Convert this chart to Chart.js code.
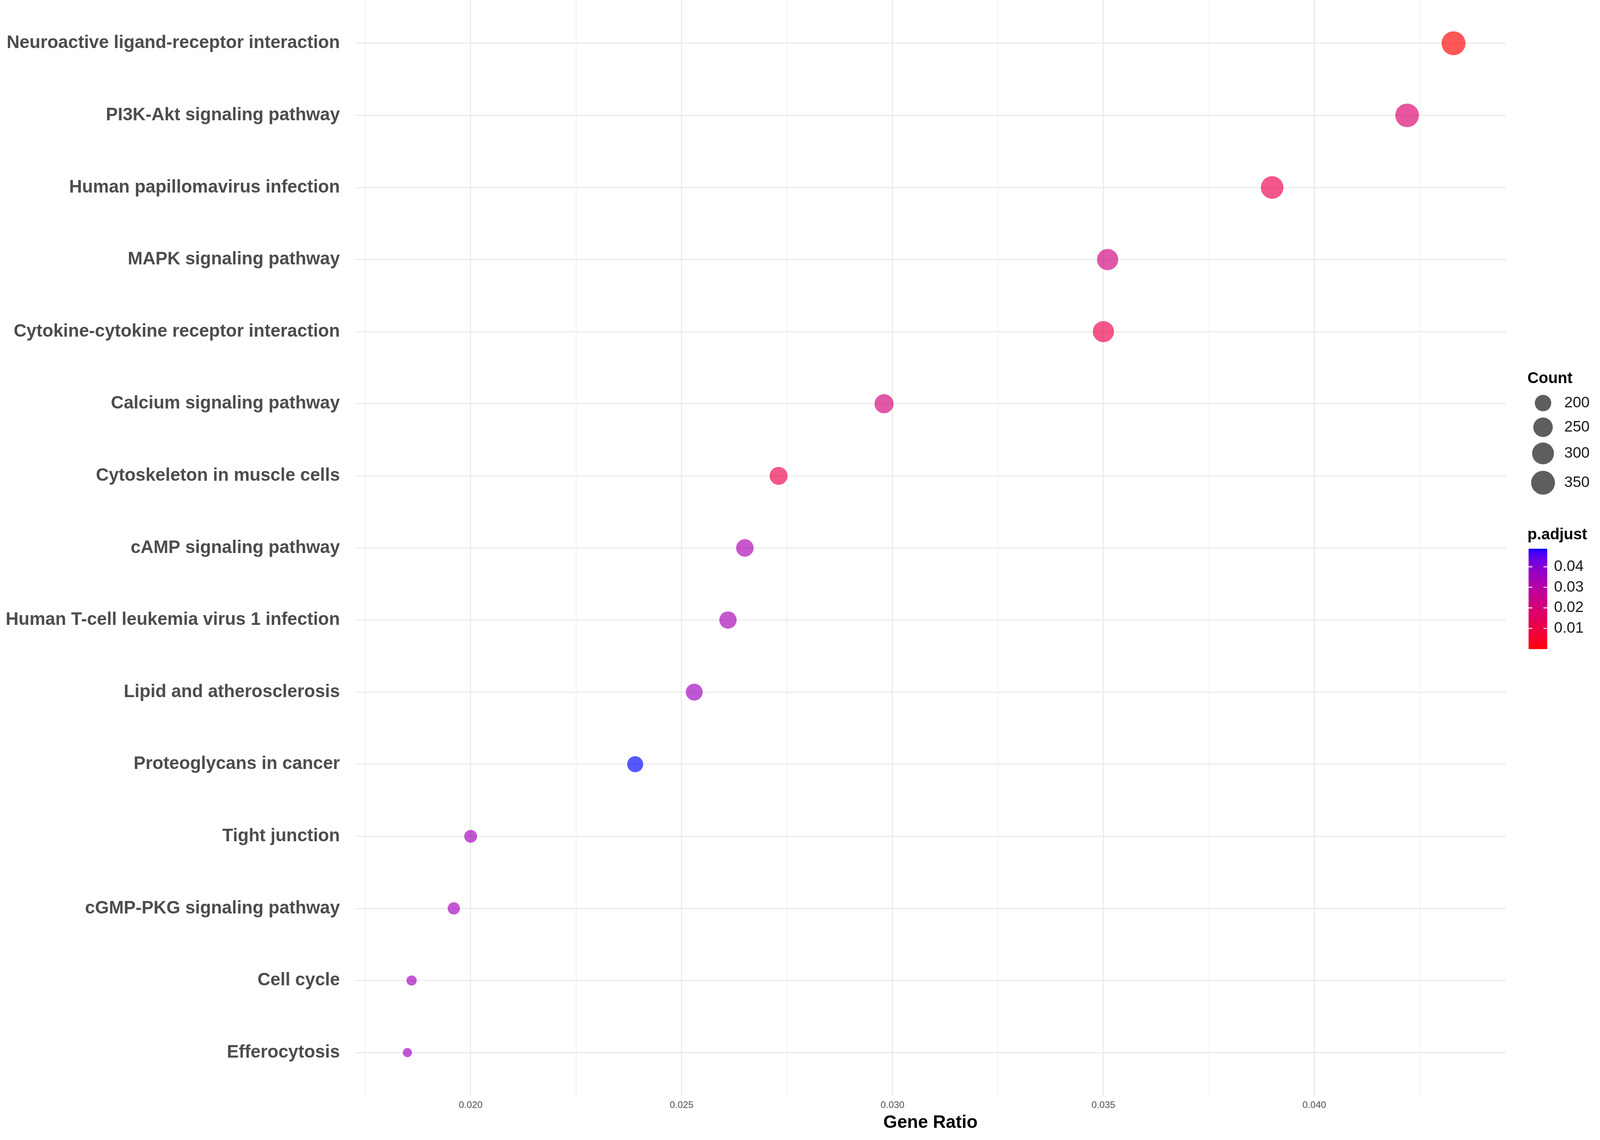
<!DOCTYPE html>
<html>
<head>
<meta charset="utf-8">
<title>KEGG enrichment dot plot</title>
<script src="https://cdn.jsdelivr.net/npm/chart.js@4.4.1/dist/chart.umd.min.js"></script>
<style>
  html, body { margin: 0; padding: 0; background: #fff; overflow: hidden; }
  #wrap { position: absolute; left: 0; top: 0; }
  canvas { display: block; }
</style>
</head>
<body>
<div id="wrap"><canvas id="dotChart"></canvas></div>
<script>
// =============================
// DATA (top row first)
// =============================
const pathways = [
  "Neuroactive ligand-receptor interaction",
  "PI3K-Akt signaling pathway",
  "Human papillomavirus infection",
  "MAPK signaling pathway",
  "Cytokine-cytokine receptor interaction",
  "Calcium signaling pathway",
  "Cytoskeleton in muscle cells",
  "cAMP signaling pathway",
  "Human T-cell leukemia virus 1 infection",
  "Lipid and atherosclerosis",
  "Proteoglycans in cancer",
  "Tight junction",
  "cGMP-PKG signaling pathway",
  "Cell cycle",
  "Efferocytosis"
];
const geneRatio = [0.0433, 0.0422, 0.0390, 0.0351, 0.0350, 0.0298, 0.0273, 0.0265,
                   0.0261, 0.0253, 0.0239, 0.0200, 0.0196, 0.0186, 0.0185];
const geneCount = [352, 343, 317, 285, 284, 242, 222, 215, 212, 206, 194, 163, 159, 151, 150];
const pAdjust   = [0.00013, 0.018, 0.012, 0.022, 0.011, 0.021, 0.011, 0.033,
                   0.034, 0.036, 0.0488, 0.035, 0.035, 0.036, 0.036];

const xMajorTicks = [0.020, 0.025, 0.030, 0.035, 0.040];
const xMajorLabels = ["0.020", "0.025", "0.030", "0.035", "0.040"];
const xMinorTicks = [0.0175, 0.0225, 0.0275, 0.0325, 0.0375, 0.0425];
const countBreaks = [200, 250, 300, 350];
const pBreaks = [0.01, 0.02, 0.03, 0.04];
const pBreakLabels = ["0.01", "0.02", "0.03", "0.04"];

const FONT = '"Liberation Sans", Arial, sans-serif';

// layout is designed for 4213 x 2919, scaled to whatever the viewport really is
const W = window.innerWidth, H = window.innerHeight;
const sx = W / 4213, sy = H / 2919, s = Math.min(sx, sy);
const canvas = document.getElementById("dotChart");
canvas.width = W;
canvas.height = H;

// =============================
// size + colour scales (ggplot-like)
// =============================
const cMin = Math.min(...geneCount);
const cMax = Math.max(...geneCount);
const pMin = Math.min(...pAdjust);
const pMax = Math.max(...pAdjust);

function diameterFor(c) {
  const t = Math.max(0, (c - cMin) / (cMax - cMin));
  return (24 + 39 * Math.sqrt(t)) * s;
}

function toLin(c) { c /= 255; return c <= 0.04045 ? c / 12.92 : Math.pow((c + 0.055) / 1.055, 2.4); }
function toSrgb(c) {
  c = Math.min(1, Math.max(0, c));
  const v = c <= 0.0031308 ? 12.92 * c : 1.055 * Math.pow(c, 1 / 2.4) - 0.055;
  return Math.round(v * 255);
}
function rgbToLab(rgb) {
  const [r, g, b] = rgb.map(toLin);
  const X = (0.4124 * r + 0.3576 * g + 0.1805 * b) / 0.95047;
  const Y = (0.2126 * r + 0.7152 * g + 0.0722 * b);
  const Z = (0.0193 * r + 0.1192 * g + 0.9505 * b) / 1.08883;
  const f = t => t > 0.008856 ? Math.cbrt(t) : 7.787 * t + 16 / 116;
  const fx = f(X), fy = f(Y), fz = f(Z);
  return [116 * fy - 16, 500 * (fx - fy), 200 * (fy - fz)];
}
function labToRgb(lab) {
  const fy = (lab[0] + 16) / 116, fx = fy + lab[1] / 500, fz = fy - lab[2] / 200;
  const inv = f => (f * f * f > 0.008856) ? f * f * f : (f - 16 / 116) / 7.787;
  const X = 0.95047 * inv(fx), Y = inv(fy), Z = 1.08883 * inv(fz);
  return [
    toSrgb(3.2406 * X - 1.5372 * Y - 0.4986 * Z),
    toSrgb(-0.9689 * X + 1.8758 * Y + 0.0415 * Z),
    toSrgb(0.0557 * X - 0.2040 * Y + 1.0570 * Z)
  ];
}
const LOW = rgbToLab([255, 0, 0]);
const HIGH = rgbToLab([0, 0, 255]);
function colorFor(p, alpha) {
  const t = Math.min(1, Math.max(0, (p - pMin) / (pMax - pMin)));
  const lab = LOW.map((v, i) => v + (HIGH[i] - v) * t);
  const [r, g, b] = labToRgb(lab);
  return `rgba(${r},${g},${b},${alpha})`;
}

// =============================
// legends on the right (Count sizes + p.adjust bar)
// =============================
const sideLegend = {
  id: "sideLegend",
  afterDraw(chart) {
    const ctx = chart.ctx;
    const x0 = chart.chartArea.right + 57 * sx;
    ctx.save();
    ctx.textBaseline = "middle";
    ctx.textAlign = "left";

    // Count
    ctx.fillStyle = "#000";
    ctx.font = `bold ${41 * s}px ${FONT}`;
    ctx.fillText("Count", x0, 970 * sy);
    const keyY = [1032, 1094, 1161, 1236];
    countBreaks.forEach((c, i) => {
      ctx.beginPath();
      ctx.arc(x0 + 41 * sx, keyY[i] * sy, diameterFor(c) / 2, 0, Math.PI * 2);
      ctx.fillStyle = "rgba(0,0,0,0.63)";
      ctx.fill();
      ctx.fillStyle = "#1a1a1a";
      ctx.font = `${40 * s}px ${FONT}`;
      ctx.fillText(String(c), x0 + 97 * sx, keyY[i] * sy);
    });

    // p.adjust
    ctx.fillStyle = "#000";
    ctx.font = `bold ${41 * s}px ${FONT}`;
    ctx.fillText("p.adjust", x0, 1370 * sy);
    const barX = x0 + 3 * sx, barW = 49 * sx, barTop = 1405 * sy, barBot = 1661 * sy;
    const steps = 128;
    for (let k = 0; k < steps; k++) {
      const p = pMin + (pMax - pMin) * (k + 0.5) / steps;
      const y1 = barBot - (barBot - barTop) * (k + 1) / steps;
      ctx.fillStyle = colorFor(p, 1);
      ctx.fillRect(barX, y1, barW, (barBot - barTop) / steps + 1);
    }
    ctx.strokeStyle = "rgba(255,255,255,0.85)";
    ctx.lineWidth = 3 * s;
    pBreaks.forEach((p, i) => {
      const y = barBot - (p - pMin) / (pMax - pMin) * (barBot - barTop);
      ctx.beginPath();
      ctx.moveTo(barX, y); ctx.lineTo(barX + barW / 5, y);
      ctx.moveTo(barX + barW, y); ctx.lineTo(barX + barW * 4 / 5, y);
      ctx.stroke();
      ctx.fillStyle = "#1a1a1a";
      ctx.font = `${40 * s}px ${FONT}`;
      ctx.fillText(pBreakLabels[i], x0 + 70 * sx, y);
    });
    ctx.restore();
  }
};

// =============================
// CHART
// =============================
const n = pathways.length;
const points = geneRatio.map((r, i) => ({ x: r, y: n - 1 - i }));

new Chart(canvas.getContext("2d"), {
  type: "scatter",
  data: {
    datasets: [{
      data: points,
      pointRadius: ctx => diameterFor(geneCount[ctx.dataIndex]) / 2,
      pointHoverRadius: ctx => diameterFor(geneCount[ctx.dataIndex]) / 2,
      pointBackgroundColor: ctx => colorFor(pAdjust[ctx.dataIndex], 0.66),
      pointBorderWidth: 0
    }]
  },
  options: {
    responsive: false,
    animation: false,
    layout: { autoPadding: false, padding: { left: 0, right: 248 * sx, top: 0, bottom: 0 } },
    plugins: {
      legend: { display: false },
      tooltip: { enabled: false }
    },
    scales: {
      x: {
        type: "linear",
        min: 0.01726,
        max: 0.04454,
        afterBuildTicks: scale => {
          scale.ticks = [...xMinorTicks, ...xMajorTicks].sort((a, b) => a - b).map(v => ({ value: v }));
        },
        afterFit: scale => {
          scale.height = 113 * sy;
          scale.paddingLeft = 0;
          scale.paddingRight = 0;
        },
        ticks: {
          autoSkip: false,
          maxRotation: 0,
          padding: 10 * sy,
          color: "#4D4D4D",
          font: { family: FONT, size: 25 * s },
          callback: v => {
            const k = xMajorTicks.indexOf(v);
            return k >= 0 ? xMajorLabels[k] : "";
          }
        },
        grid: {
          drawTicks: false,
          color: ctx => xMajorTicks.includes(ctx.tick && ctx.tick.value) ? "#EBEBEB" : "#F1F1F1",
          lineWidth: ctx => (xMajorTicks.includes(ctx.tick && ctx.tick.value) ? 3 : 2) * s
        },
        border: { display: false },
        title: {
          display: true,
          text: "Gene Ratio",
          color: "#000",
          font: { family: FONT, size: 47 * s, weight: "bold" },
          padding: { top: 0, bottom: 16 * sy }
        }
      },
      y: {
        type: "linear",
        min: -0.6,
        max: n - 1 + 0.6,
        afterBuildTicks: scale => {
          scale.ticks = pathways.map((_, i) => ({ value: i }));
        },
        afterFit: scale => {
          scale.width = 935 * sx;
          scale.paddingTop = 0;
          scale.paddingBottom = 0;
        },
        ticks: {
          autoSkip: false,
          padding: 40 * sx,
          color: "#4D4D4D",
          font: { family: FONT, size: 47 * s, weight: "bold" },
          callback: v => pathways[n - 1 - v]
        },
        grid: { drawTicks: false, color: "#EBEBEB", lineWidth: 3 * s },
        border: { display: false }
      }
    }
  },
  plugins: [sideLegend]
});
</script>
</body>
</html>
